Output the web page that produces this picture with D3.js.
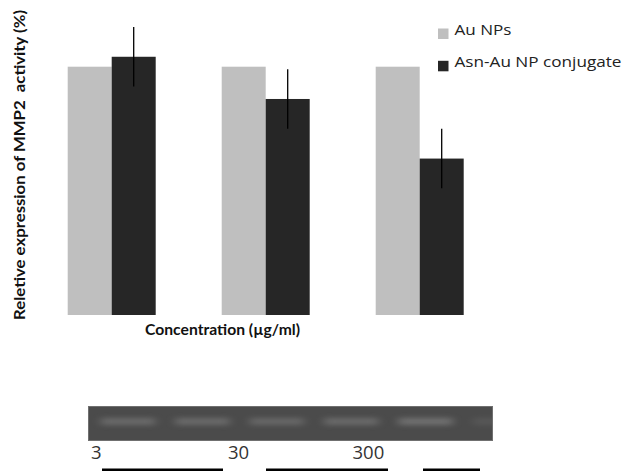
<!DOCTYPE html>
<html><head><meta charset="utf-8">
<script src="https://cdn.jsdelivr.net/npm/d3@7"></script>
<style>html,body{margin:0;padding:0;background:#fff;}svg{display:block;}</style>
</head><body>
<svg id="c" width="623" height="471"></svg>
<script>
const categories = ["3", "30", "300"];
const seriesNames = ["Au NPs", "Asn-Au NP conjugate"];
const auValues = [100, 100, 100];
const asnValues = [104, 87, 63];
const asnErrors = [12, 12, 12];
const laneIntensity = [0.5, 0.5, 0.45, 0.5, 0.6, 0.2];
const colors = ["#bfbfbf", "#262626"];

const svg = d3.select("#c");
const x0 = d3.scaleBand().domain(categories).range([-9.3, 540.7]).paddingInner(66 / 154).paddingOuter(0.5);
const x1 = d3.scaleBand().domain(seriesNames).range([0, x0.bandwidth()]);
const y = d3.scaleLinear().domain([0, 100]).range([315, 66.7]);

const g = svg.append("g");
categories.forEach((c, i) => {
  const vals = [auValues[i], asnValues[i]];
  seriesNames.forEach((s, j) => {
    g.append("rect")
      .attr("x", x0(c) + x1(s)).attr("width", x1.bandwidth())
      .attr("y", y(vals[j])).attr("height", y(0) - y(vals[j]))
      .attr("fill", colors[j]);
  });
  const cx = x0(c) + x1(seriesNames[1]) + x1.bandwidth() / 2;
  g.append("line").attr("x1", cx).attr("x2", cx)
    .attr("y1", y(asnValues[i] + asnErrors[i])).attr("y2", y(asnValues[i] - asnErrors[i]))
    .attr("stroke", "#000").attr("stroke-width", 1.3);
});

// Legend
const legendWidths = [57, 167];
const leg = svg.append("g").attr("transform", "translate(438,28.5)");
seriesNames.forEach((s, j) => {
  const row = leg.append("g").attr("transform", `translate(0,${j * 32.3})`);
  row.append("rect").attr("width", 10.5).attr("height", 10.5).attr("fill", colors[j]);
  row.append("text").attr("x", 16.5).attr("y", 6.5).text(s)
    .attr("font-family", "Open Sans").attr("font-size", 14).attr("fill", "#222")
    .attr("textLength", legendWidths[j]).attr("lengthAdjust", "spacingAndGlyphs");
});

// Axis titles
svg.append("text").attr("transform", "translate(25,165) rotate(-90)")
  .attr("text-anchor", "middle").attr("font-family", "Lato").attr("font-weight", "bold")
  .attr("font-size", 15).attr("fill", "#111")
  .attr("textLength", 310).attr("lengthAdjust", "spacingAndGlyphs")
  .text("Reletive expression of MMP2  activity (%)").style("white-space", "pre");
svg.append("text").attr("x", 222.5).attr("y", 335).attr("text-anchor", "middle")
  .attr("font-family", "Lato").attr("font-weight", "bold").attr("font-size", 15)
  .attr("textLength", 155).attr("lengthAdjust", "spacingAndGlyphs")
  .attr("fill", "#111").text("Concentration (µg/ml)");

// Gel
const defs = svg.append("defs");
defs.append("filter").attr("id", "blur").attr("x", "-20%").attr("y", "-100%").attr("width", "140%").attr("height", "300%")
  .append("feGaussianBlur").attr("stdDeviation", "5 2.5");
defs.append("clipPath").attr("id", "gelclip").append("rect")
  .attr("x", 88).attr("y", 406).attr("width", 405).attr("height", 35);
const gel = svg.append("g").attr("clip-path", "url(#gelclip)");
gel.append("rect").attr("x", 88).attr("y", 406).attr("width", 405).attr("height", 35).attr("fill", "#4b4b4b");
const lane = d3.scaleLinear().domain([0, 5]).range([128, 500]);
laneIntensity.forEach((v, i) => {
  gel.append("rect").attr("x", lane(i) - 27).attr("y", 418).attr("width", 54).attr("height", 7)
    .attr("fill", "#8a8a8a").attr("opacity", v).attr("filter", "url(#blur)");
});
gel.append("rect").attr("x", 88.5).attr("y", 406.5).attr("width", 404).attr("height", 34)
  .attr("fill", "none").attr("stroke", "#707070").attr("stroke-width", 1);

const labelX = [91, 228, 352.5];
categories.forEach((c, i) => {
  svg.append("text").attr("x", labelX[i]).attr("y", 459).text(c)
    .attr("font-family", "Open Sans").attr("font-size", 18.5).attr("fill", "#333");
});
const groupLines = [[102, 223], [266, 388], [423, 480]];
groupLines.forEach(l => {
  svg.append("line").attr("x1", l[0]).attr("x2", l[1]).attr("y1", 470).attr("y2", 470)
    .attr("stroke", "#000").attr("stroke-width", 3);
});
</script>
</body></html>
